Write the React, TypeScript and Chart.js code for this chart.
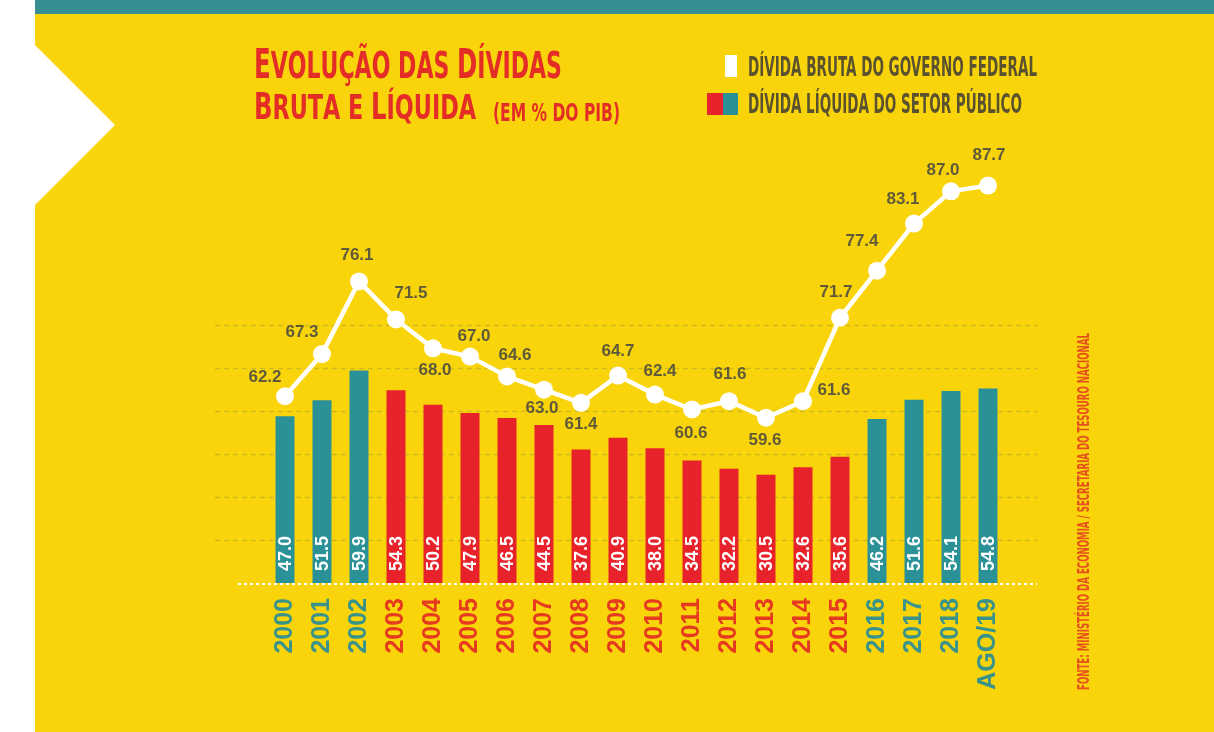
import React, { useEffect, useRef } from "react";
import { Chart, registerables } from "chart.js";

Chart.register(...registerables);

// ---------- data ----------
const categories = [
  "2000", "2001", "2002", "2003", "2004", "2005", "2006", "2007", "2008", "2009",
  "2010", "2011", "2012", "2013", "2014", "2015", "2016", "2017", "2018", "AGO/19",
];
const grossDebt = [
  62.2, 67.3, 76.1, 71.5, 68.0, 67.0, 64.6, 63.0, 61.4, 64.7,
  62.4, 60.6, 61.6, 59.6, 61.6, 71.7, 77.4, 83.1, 87.0, 87.7,
];
const netDebt = [
  47.0, 51.5, 59.9, 54.3, 50.2, 47.9, 46.5, 44.5, 37.6, 40.9,
  38.0, 34.5, 32.2, 30.5, 32.6, 35.6, 46.2, 51.6, 54.1, 54.8,
];
// period group of each category: "t" = teal, "r" = red
const periodGroup = [
  "t", "t", "t", "r", "r", "r", "r", "r", "r", "r",
  "r", "r", "r", "r", "r", "r", "t", "t", "t", "t",
];
const gridLevels = [12.1, 24.2, 36.3, 48.5, 60.6, 72.8];

const titleLine1 = "Evolução das Dívidas";
const titleLine2 = "Bruta e Líquida";
const titleNote = "(em % do PIB)";
const legendGross = "Dívida bruta do governo federal";
const legendNet = "Dívida líquida do setor público";
const sourceText = "Fonte: Ministério da Economia / Secretaria do Tesouro Nacional";

// ---------- style ----------
const YELLOW = "#F9D40A";
const TEAL = "#2A9197";
const RED = "#E8222B";
const TEAL_TXT = "#3A938A";
const RED_TXT = "#E53A20";
const TITLE_RED = "#E42D27";
const DARK = "#5A512E";
const LABEL_DARK = "#5F5A3A";
const COND = "'DejaVu Sans Condensed', 'DejaVu Sans', sans-serif";
const SANS = "'Liberation Sans', Arial, sans-serif";

// label offsets (dx, dy) of the gross-debt value labels, relative to each point
const lineLabelOffsets: [number, number][] = [
  [-20, -19], [-20, -22], [-2, -26], [15, -26], [2, 22], [4, -20], [8, -21], [-2, 19], [0, 21], [0, -24],
  [5, -23], [-1, 24], [1, -27], [-1, 23], [31, -11], [-4, -25], [-15, -29], [-11, -24], [-8, -21], [1, -30],
];

function drawFittedParts(
  ctx: CanvasRenderingContext2D,
  parts: { text: string; size: number }[],
  x: number,
  baseline: number,
  width: number,
  family: string,
  color: string
) {
  let total = 0;
  for (const p of parts) {
    ctx.font = `bold ${p.size}px ${family}`;
    total += ctx.measureText(p.text).width;
  }
  const s = width / total;
  ctx.save();
  ctx.translate(x, baseline);
  ctx.scale(s, 1);
  ctx.fillStyle = color;
  ctx.textAlign = "left";
  ctx.textBaseline = "alphabetic";
  let cx = 0;
  for (const p of parts) {
    ctx.font = `bold ${p.size}px ${family}`;
    ctx.fillText(p.text, cx, 0);
    cx += ctx.measureText(p.text).width;
  }
  ctx.restore();
}

function smallCapsParts(text: string, big: number, small: number) {
  const parts: { text: string; size: number }[] = [];
  for (const ch of text) {
    const isUpper = ch === ch.toUpperCase() && ch !== ch.toLowerCase();
    parts.push({ text: ch.toUpperCase(), size: isUpper ? big : small });
  }
  return parts;
}

const decorPlugin = {
  id: "decor",
  beforeDatasetsDraw(chart: any) {
    const ctx: CanvasRenderingContext2D = chart.ctx;
    const yb = chart.scales.yBar;
    ctx.save();
    ctx.strokeStyle = "rgba(140,150,60,0.4)";
    ctx.lineWidth = 1.5;
    ctx.setLineDash([5, 4]);
    for (const v of gridLevels) {
      const y = Math.round(yb.getPixelForValue(v)) + 0.5;
      ctx.beginPath();
      ctx.moveTo(215, y);
      ctx.lineTo(1037, y);
      ctx.stroke();
    }
    ctx.restore();
  },
  afterDatasetsDraw(chart: any) {
    const ctx: CanvasRenderingContext2D = chart.ctx;
    const yb = chart.scales.yBar;
    // baseline
    ctx.save();
    ctx.strokeStyle = "#FFFFFF";
    ctx.lineWidth = 2;
    ctx.setLineDash([3, 3]);
    const y0 = Math.round(yb.getPixelForValue(0)) + 1;
    ctx.beginPath();
    ctx.moveTo(238, y0);
    ctx.lineTo(1037, y0);
    ctx.stroke();
    ctx.restore();

    // bar value labels
    const barMeta = chart.getDatasetMeta(0);
    ctx.save();
    ctx.fillStyle = "#FFFFFF";
    ctx.font = `bold 18px ${SANS}`;
    ctx.textAlign = "left";
    ctx.textBaseline = "middle";
    barMeta.data.forEach((el: any, i: number) => {
      ctx.save();
      ctx.translate(el.x, y0 - 13);
      ctx.rotate(-Math.PI / 2);
      ctx.fillText(netDebt[i].toFixed(1), 0, 1);
      ctx.restore();
    });
    ctx.restore();

    // line value labels
    const lineMeta = chart.getDatasetMeta(1);
    ctx.save();
    ctx.fillStyle = LABEL_DARK;
    ctx.font = `bold 17px ${SANS}`;
    ctx.textAlign = "center";
    ctx.textBaseline = "middle";
    lineMeta.data.forEach((el: any, i: number) => {
      const [dx, dy] = lineLabelOffsets[i];
      ctx.fillText(grossDebt[i].toFixed(1), el.x + dx, el.y + dy);
    });
    ctx.restore();

    // title
    drawFittedParts(ctx, smallCapsParts(titleLine1, 41, 37), 254, 78, 308, COND, TITLE_RED);
    drawFittedParts(ctx, smallCapsParts(titleLine2, 37, 34), 254, 119, 222, COND, TITLE_RED);
    drawFittedParts(ctx, [{ text: titleNote.toUpperCase(), size: 24 }], 493, 121, 127, COND, TITLE_RED);

    // legend
    ctx.save();
    ctx.fillStyle = "#FFFFFF";
    ctx.fillRect(725, 55, 12, 22);
    ctx.fillStyle = RED;
    ctx.fillRect(707, 93, 16, 22);
    ctx.fillStyle = TEAL;
    ctx.fillRect(723, 93, 15, 22);
    ctx.restore();
    drawFittedParts(ctx, [{ text: legendGross.toUpperCase(), size: 26 }], 748, 76, 289, COND, DARK);
    drawFittedParts(ctx, [{ text: legendNet.toUpperCase(), size: 26 }], 748, 113, 274, COND, DARK);

    // source (rotated)
    ctx.save();
    ctx.translate(1089, 690);
    ctx.rotate(-Math.PI / 2);
    drawFittedParts(ctx, [{ text: sourceText.toUpperCase(), size: 15 }], 0, 0, 357, COND, "#E5501E");
    ctx.restore();
  },
};

export default function App() {
  const canvasRef = useRef<HTMLCanvasElement | null>(null);

  useEffect(() => {
    const canvas = canvasRef.current;
    if (!canvas) return;
    const chart = new Chart(canvas, {
      type: "bar",
      data: {
        labels: categories,
        datasets: [
          {
            type: "bar",
            label: legendNet,
            data: netDebt,
            yAxisID: "yBar",
            backgroundColor: periodGroup.map((g) => (g === "t" ? TEAL : RED)),
            borderWidth: 0,
            categoryPercentage: 1,
            barPercentage: 19 / 37,
            order: 2,
          },
          {
            type: "line",
            label: legendGross,
            data: grossDebt,
            yAxisID: "yLine",
            borderColor: "#FFFFFF",
            backgroundColor: "#FFFFFF",
            borderWidth: 4.5,
            pointRadius: 9,
            pointBackgroundColor: "#FFFFFF",
            pointBorderColor: "#FFFFFF",
            pointBorderWidth: 0,
            tension: 0,
            order: 1,
          },
        ],
      },
      options: {
        responsive: false,
        animation: false,
        devicePixelRatio: 1,
        layout: { padding: { left: 266.5, right: 207.5, top: 150, bottom: 0 } },
        plugins: {
          legend: { display: false },
          tooltip: { enabled: false },
          title: { display: false },
        },
        scales: {
          x: {
            grid: { display: false, drawTicks: false },
            border: { display: false },
            ticks: {
              autoSkip: false,
              minRotation: 90,
              maxRotation: 90,
              padding: 15,
              font: { family: SANS, size: 25, weight: "bold" },
              color: (c: any) => (periodGroup[c.index] === "t" ? TEAL_TXT : RED_TXT),
            },
            afterFit: (scale: any) => {
              scale.height = 149;
            },
          },
          yBar: {
            type: "linear",
            display: false,
            position: "left",
            min: 0,
            max: 122,
          },
          yLine: {
            type: "linear",
            display: false,
            position: "right",
            min: 39.6,
            max: 92.0,
          },
        },
      },
      plugins: [decorPlugin],
    });
    return () => chart.destroy();
  }, []);

  return (
    <div
      style={{
        position: "absolute",
        left: 0,
        top: 0,
        width: 1214,
        height: 732,
        background: "#FFFFFF",
        overflow: "hidden",
      }}
    >
      <div style={{ position: "absolute", left: 35, top: 0, width: 1179, height: 14, background: "#368F93" }} />
      <div style={{ position: "absolute", left: 35, top: 14, width: 1179, height: 718, background: YELLOW }} />
      <div
        style={{
          position: "absolute",
          left: 35,
          top: 45,
          width: 80,
          height: 160,
          background: "#FFFFFF",
          clipPath: "polygon(0 0, 100% 50%, 0 100%)",
        }}
      />
      <canvas ref={canvasRef} width={1214} height={732} style={{ position: "absolute", left: 0, top: 0 }} />
    </div>
  );
}
